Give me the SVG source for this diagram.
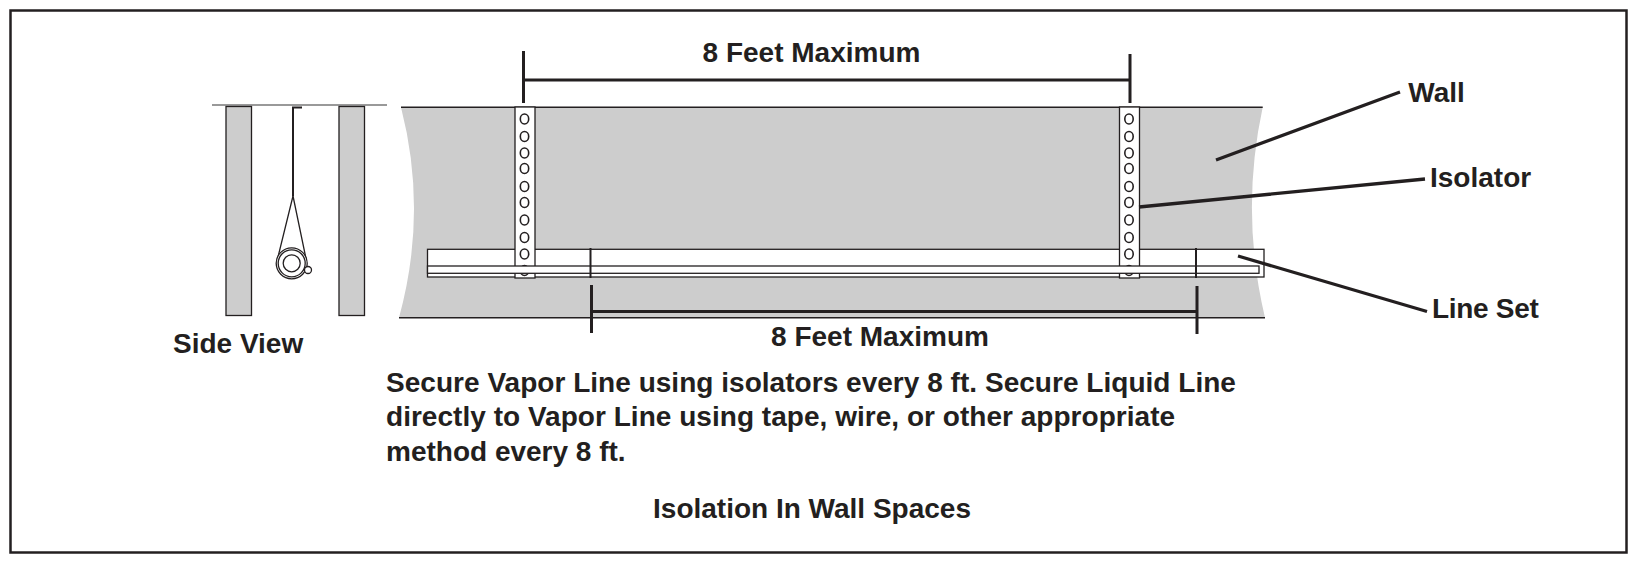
<svg xmlns="http://www.w3.org/2000/svg" width="1637" height="563" viewBox="0 0 1637 563">
<style>
text{font-family:"Liberation Sans",Arial,sans-serif;font-weight:700;fill:#231f20;font-size:28px}
.ln{stroke:#231f20;fill:none}
.thin{stroke:#231f20;stroke-width:1.300;fill:none}
.gr{fill:#cdcdcd;stroke:#231f20;stroke-width:1.300}
.wh{fill:#fff;stroke:#231f20;stroke-width:1.300}
.hole{fill:#fff;stroke:#231f20;stroke-width:1.600}
.d{stroke:#231f20;stroke-width:3;fill:none}
.lead{stroke:#231f20;stroke-width:3.300;fill:none}
</style>
<defs>
<g id="iso">
<rect class="wh" x="0" y="0" width="20" height="171"/>
<ellipse class="hole" cx="9.500" cy="12" rx="4.200" ry="5"/>
<ellipse class="hole" cx="9.500" cy="29.500" rx="4.200" ry="5"/>
<ellipse class="hole" cx="9.500" cy="46" rx="4.200" ry="5"/>
<ellipse class="hole" cx="9.500" cy="61.500" rx="4.200" ry="5"/>
<ellipse class="hole" cx="9.500" cy="79.500" rx="4.200" ry="5"/>
<ellipse class="hole" cx="9.500" cy="95.500" rx="4.200" ry="5"/>
<ellipse class="hole" cx="9.500" cy="113" rx="4.200" ry="5"/>
<ellipse class="hole" cx="9.500" cy="130.500" rx="4.200" ry="5"/>
<ellipse class="hole" cx="9.500" cy="147" rx="4.200" ry="5"/>
<ellipse class="hole" cx="9.500" cy="163.500" rx="4.200" ry="5"/>
</g>
</defs>
<rect id="frame" x="10.500" y="10.500" width="1616" height="542" fill="#fff" stroke="#231f20" stroke-width="2.500"/>
<g id="side-view">
<path d="M212 105H387" stroke="#777" stroke-width="1.500" fill="none"/>
<rect class="gr" x="226" y="106.500" width="25.500" height="209"/>
<rect class="gr" x="339" y="106.500" width="25.500" height="209"/>
<path class="d" style="stroke-width:2" d="M302 107.500H293V196"/>
<path class="thin" d="M293 196L277 261M293 196L306.500 261"/>
<circle class="wh" cx="291.700" cy="263.300" r="15.500"/>
<circle class="thin" cx="291.700" cy="263.300" r="13.500"/>
<circle class="thin" cx="291.700" cy="263.300" r="8.500"/>
<circle class="wh" cx="308" cy="270" r="3.500"/>
<text x="173" y="353">Side View</text>
</g>
<g id="wall">
<path d="M401 107.200H1262.700Q1240 212 1265 317.700H399Q428 212 401 107.200Z" fill="#cdcdcd"/>
<path class="ln" stroke-width="1.600" d="M401 107.200H1262.700M399 317.700H1265"/>
</g>
<g id="line-set">
<rect class="wh" x="427.500" y="249.300" width="836.500" height="27.700"/>
</g>
<g id="isolator-left"><use href="#iso" x="515" y="107"/></g>
<g id="isolator-right"><use href="#iso" x="1119.500" y="107"/></g>
<g id="vapor-line">
<rect class="wh" x="427.500" y="266" width="831.500" height="7.300"/>
</g>
<g id="connectors">
<path class="d" d="M523.500 51V103M523.500 80H1130M1130 54V103"/>
<path class="d" d="M591.500 285V333M591.500 311.500H1197M1197 286V334"/>
<path class="d" style="stroke-width:2" d="M590.500 248V278M1196 248V278"/>
<path class="lead" d="M1216 160L1400 92M1139 207L1425 179M1238 256L1427 311.500"/>
</g>
<g id="labels">
<text x="811.500" y="62" text-anchor="middle">8 Feet Maximum</text>
<text x="880" y="346" text-anchor="middle">8 Feet Maximum</text>
<text x="1408.300" y="102">Wall</text>
<text x="1430" y="187">Isolator</text>
<text x="1432" y="318" letter-spacing="-0.300">Line Set</text>
<text x="386" y="392" letter-spacing="0.030">Secure Vapor Line using isolators every 8 ft. Secure Liquid Line</text>
<text x="386" y="426" letter-spacing="0.030">directly to Vapor Line using tape, wire, or other appropriate</text>
<text x="386" y="461">method every 8 ft.</text>
<text x="812" y="518" text-anchor="middle">Isolation In Wall Spaces</text>
</g>
</svg>
